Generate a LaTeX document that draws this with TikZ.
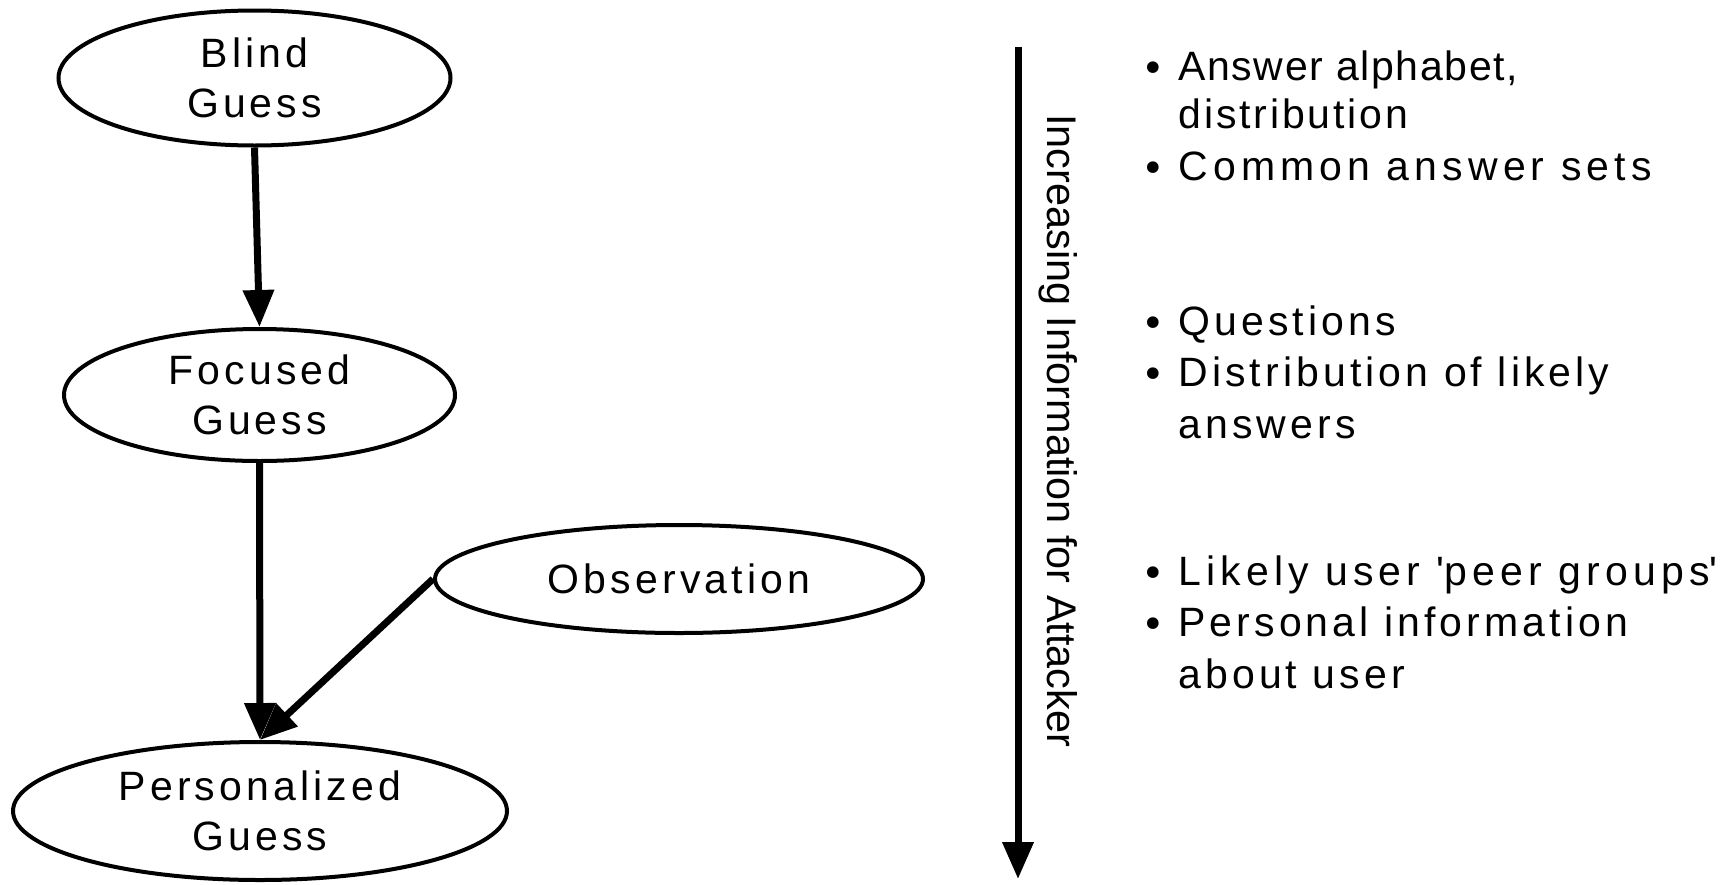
\documentclass[tikz,border=0pt]{standalone}
\usepackage{fontspec}
\setmainfont{Liberation Sans}
\newfontfamily\dotfnt{DejaVu Sans}
\newfontfamily\spacedfnt[LetterSpace=10]{Liberation Sans}
\newfontfamily\tightfnt[LetterSpace=4]{Liberation Sans}
\newfontfamily\midfnt[LetterSpace=7]{Liberation Sans}
\newfontfamily\widefnt[LetterSpace=12.5]{Liberation Sans}
\usetikzlibrary{arrows.meta,shapes.geometric}
\begin{document}
\begin{tikzpicture}[x=0.5pt,y=-0.5pt,
  state/.style={ellipse, draw, line width=2pt, inner sep=0pt, align=center,
    font=\spacedfnt\fontsize{20.5pt}{25pt}\selectfont},
  flow/.style={line width=3.5pt, -{Triangle[length=18.5pt,width=15pt]}},
  itemtext/.style={anchor=base west, inner sep=0pt,
    font=\spacedfnt\fontsize{20.5pt}{25pt}\selectfont},
  bulletmark/.style={anchor=base west, inner sep=0pt, font=\dotfnt\fontsize{20pt}{20pt}\selectfont}]
\useasboundingbox (0,0) rectangle (1729,884);

\node[state, minimum width=196pt, minimum height=67.5pt] (blind) at (254.5,78) {Blind\\Guess};
\node[state, minimum width=195.5pt, minimum height=66pt] (focused) at (259.5,395) {Focused\\Guess};
\node[state, minimum width=244pt, minimum height=54pt] (obs) at (679,579) {Observation};
\node[state, minimum width=247pt, minimum height=69pt] (pers) at (260,811) {Personalized\\Guess};

\draw[flow] (blind.south) -- (focused.north);
\draw[flow] (focused.south) -- (pers.north);
\draw[flow] (obs.west) -- (pers.north);

\coordinate (atop) at (1018,47);
\coordinate (abot) at (1018,879);
\draw[flow] (atop) -- (abot);
\node[rotate=-90, anchor=base west, inner sep=0pt, font=\fontsize{20.7pt}{25pt}\selectfont] (lbl) at (1047,114) {Increasing Information for Attacker};

\node[bulletmark] (m1) at (1141,82) {•};
\node[bulletmark] (m2) at (1141,182) {•};
\node[bulletmark] (m3) at (1141,337) {•};
\node[bulletmark] (m4) at (1141,388.5) {•};
\node[bulletmark] (m5) at (1141,587) {•};
\node[bulletmark] (m6) at (1141,638.5) {•};

\node[itemtext, font=\tightfnt\fontsize{20.5pt}{25pt}\selectfont] (t1) at (1178,80) {Answer alphabet,};
\node[itemtext, font=\midfnt\fontsize{20.5pt}{25pt}\selectfont] (t1b) at (1178,128.5) {distribution};
\node[itemtext, font=\widefnt\fontsize{20.5pt}{25pt}\selectfont] (t2) at (1178,180) {Common answer sets};
\node[itemtext] (t3) at (1178,335) {Questions};
\node[itemtext] (t4) at (1178,386.5) {Distribution of likely};
\node[itemtext] (t4b) at (1178,438) {answers};
\node[itemtext, font=\widefnt\fontsize{20.5pt}{25pt}\selectfont] (t5) at (1178,585) {Likely user \textquotesingle peer groups\textquotesingle};
\node[itemtext] (t6) at (1178,636.5) {Personal information};
\node[itemtext] (t6b) at (1178,688) {about user};
\end{tikzpicture}
\end{document}
